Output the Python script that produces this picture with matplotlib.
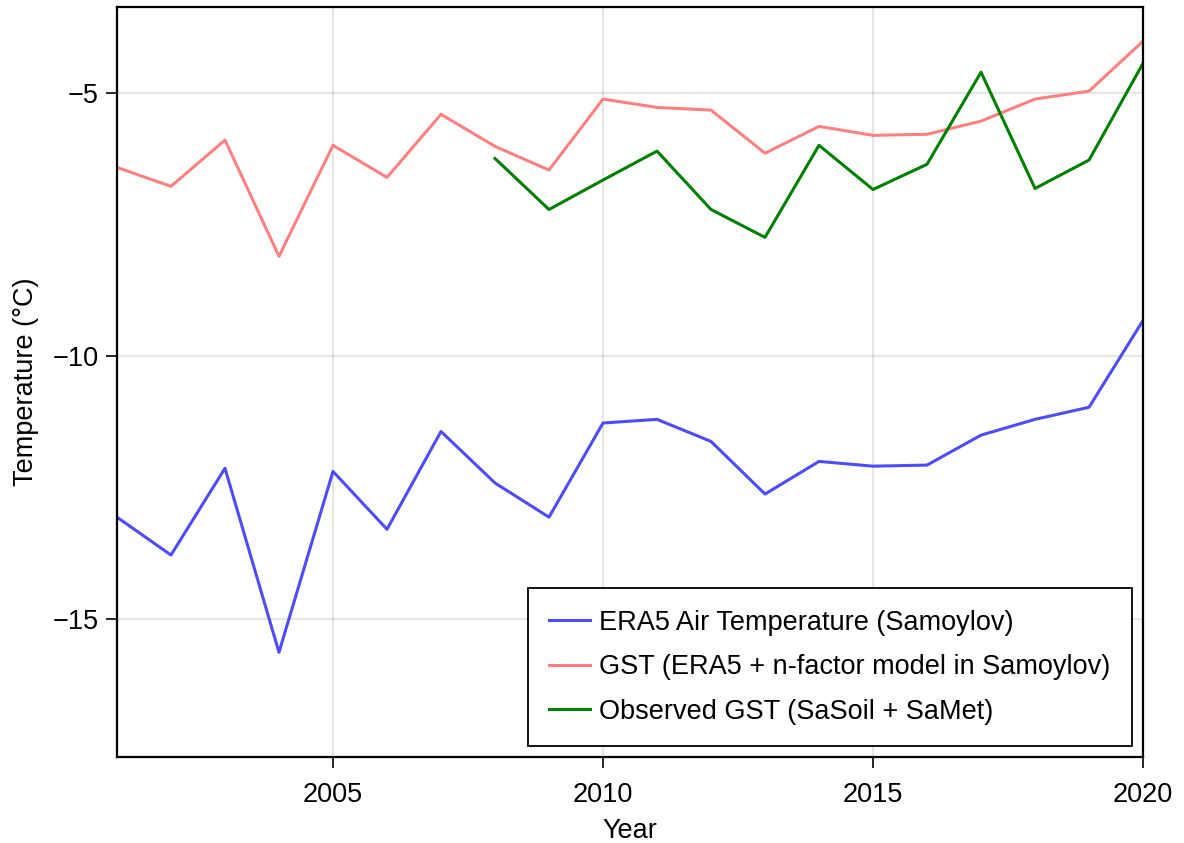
import matplotlib.pyplot as plt

plt.rcParams['font.family'] = ['Liberation Sans', 'DejaVu Sans']

years = list(range(2001, 2021))

# ERA5 air temperature at Samoylov (annual mean, degC)
era5_air = [-13.06, -13.78, -12.13, -15.63, -12.19, -13.29, -11.43, -12.41, -13.06, -11.27,
            -11.20, -11.62, -12.62, -12.00, -12.09, -12.07, -11.50, -11.20, -10.97, -9.32]

# modelled ground surface temperature (ERA5 + n-factor)
gst_model = [-6.41, -6.77, -5.89, -8.10, -5.99, -6.60, -5.40, -6.01, -6.46, -5.11,
             -5.27, -5.32, -6.14, -5.63, -5.80, -5.78, -5.53, -5.11, -4.96, -4.01]

# observed GST from SaSoil + SaMet, available from 2008
obs_years = list(range(2008, 2021))
gst_obs = [-6.24, -7.21, -6.65, -6.10, -7.21, -7.74, -5.99, -6.83, -6.35, -4.60,
           -6.81, -6.27, -4.43]

fs = 19.5

fig = plt.figure(figsize=(11.84, 8.43), dpi=100)
ax = fig.add_axes([0.0988, 0.102, 0.8666, 0.8897])

ax.plot(years, era5_air, color='#4d4dff', lw=2.2, label='ERA5 Air Temperature (Samoylov)')
ax.plot(years, gst_model, color='#ff8080', lw=2.2, label='GST (ERA5 + n-factor model in Samoylov)')
ax.plot(obs_years, gst_obs, color='#008000', lw=2.2, label='Observed GST (SaSoil + SaMet)')

ax.set_xlim(2001, 2020)
ax.set_ylim(-17.62, -3.36)
ax.set_xticks([2005, 2010, 2015, 2020])
ax.set_yticks([-15, -10, -5])
ax.set_yticklabels(['\u221215', '\u221210', '\u22125'])

ax.grid(True, color='black', alpha=0.12, lw=1.2)
ax.set_axisbelow(True)
for s in ax.spines.values():
    s.set_linewidth(1.6)
ax.tick_params(direction='out', length=8, width=1.2, labelsize=fs)
ax.tick_params(axis='x', pad=10)
ax.tick_params(axis='y', pad=5)

ax.set_xlabel('Year', fontsize=fs, labelpad=7)
ax.set_ylabel('Temperature (°C)', fontsize=fs, labelpad=10)

leg = ax.legend(loc='lower right', fontsize=fs, frameon=True, fancybox=False,
                handlelength=1.5, borderpad=0.8, labelspacing=0.68,
                borderaxespad=0.4, handletextpad=0.35)
leg.get_frame().set_edgecolor('black')
leg.get_frame().set_linewidth(1.3)
leg.get_frame().set_alpha(1)

fig.savefig('out.png', dpi=100)
